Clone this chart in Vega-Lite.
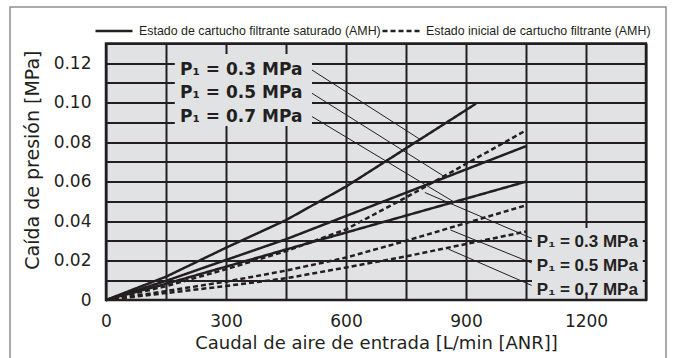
{
  "$schema": "https://vega.github.io/schema/vega-lite/v6.json",
  "width": 540,
  "height": 256.4,
  "autosize": "none",
  "padding": {"left": 106, "top": 43.6, "right": 28, "bottom": 58},
  "background": "#ffffff",
  "datasets": {
    "frame": [{"flow": -240, "flow2": 1400, "dp": 0.1486, "dp2": -0.05}],
    "boxes": [
      {"flow": 172, "flow2": 515, "dp": 0.1247, "dp2": 0.0882},
      {"flow": 1065, "flow2": 1342, "dp": 0.0365, "dp2": 0.003}
    ],
    "curves": [
      {"serie": "sat03", "estado": "Estado de cartucho filtrante saturado (AMH)", "flow": 0, "dp": 0},
      {"serie": "sat03", "estado": "Estado de cartucho filtrante saturado (AMH)", "flow": 150, "dp": 0.0118},
      {"serie": "sat03", "estado": "Estado de cartucho filtrante saturado (AMH)", "flow": 300, "dp": 0.0265},
      {"serie": "sat03", "estado": "Estado de cartucho filtrante saturado (AMH)", "flow": 450, "dp": 0.0405},
      {"serie": "sat03", "estado": "Estado de cartucho filtrante saturado (AMH)", "flow": 600, "dp": 0.0575},
      {"serie": "sat03", "estado": "Estado de cartucho filtrante saturado (AMH)", "flow": 750, "dp": 0.0769},
      {"serie": "sat03", "estado": "Estado de cartucho filtrante saturado (AMH)", "flow": 900, "dp": 0.0963},
      {"serie": "sat03", "estado": "Estado de cartucho filtrante saturado (AMH)", "flow": 925, "dp": 0.0996},
      {"serie": "sat05", "estado": "Estado de cartucho filtrante saturado (AMH)", "flow": 0, "dp": 0},
      {"serie": "sat05", "estado": "Estado de cartucho filtrante saturado (AMH)", "flow": 150, "dp": 0.0097},
      {"serie": "sat05", "estado": "Estado de cartucho filtrante saturado (AMH)", "flow": 300, "dp": 0.0203},
      {"serie": "sat05", "estado": "Estado de cartucho filtrante saturado (AMH)", "flow": 450, "dp": 0.0308},
      {"serie": "sat05", "estado": "Estado de cartucho filtrante saturado (AMH)", "flow": 600, "dp": 0.0426},
      {"serie": "sat05", "estado": "Estado de cartucho filtrante saturado (AMH)", "flow": 750, "dp": 0.0544},
      {"serie": "sat05", "estado": "Estado de cartucho filtrante saturado (AMH)", "flow": 900, "dp": 0.0662},
      {"serie": "sat05", "estado": "Estado de cartucho filtrante saturado (AMH)", "flow": 1050, "dp": 0.078},
      {"serie": "sat07", "estado": "Estado de cartucho filtrante saturado (AMH)", "flow": 0, "dp": 0},
      {"serie": "sat07", "estado": "Estado de cartucho filtrante saturado (AMH)", "flow": 150, "dp": 0.0082},
      {"serie": "sat07", "estado": "Estado de cartucho filtrante saturado (AMH)", "flow": 300, "dp": 0.0169},
      {"serie": "sat07", "estado": "Estado de cartucho filtrante saturado (AMH)", "flow": 450, "dp": 0.0256},
      {"serie": "sat07", "estado": "Estado de cartucho filtrante saturado (AMH)", "flow": 600, "dp": 0.0342},
      {"serie": "sat07", "estado": "Estado de cartucho filtrante saturado (AMH)", "flow": 750, "dp": 0.0428},
      {"serie": "sat07", "estado": "Estado de cartucho filtrante saturado (AMH)", "flow": 900, "dp": 0.0514},
      {"serie": "sat07", "estado": "Estado de cartucho filtrante saturado (AMH)", "flow": 1050, "dp": 0.06},
      {"serie": "ini03", "estado": "Estado inicial de cartucho filtrante (AMH)", "flow": 0, "dp": 0},
      {"serie": "ini03", "estado": "Estado inicial de cartucho filtrante (AMH)", "flow": 150, "dp": 0.007},
      {"serie": "ini03", "estado": "Estado inicial de cartucho filtrante (AMH)", "flow": 300, "dp": 0.0156},
      {"serie": "ini03", "estado": "Estado inicial de cartucho filtrante (AMH)", "flow": 450, "dp": 0.0248},
      {"serie": "ini03", "estado": "Estado inicial de cartucho filtrante (AMH)", "flow": 600, "dp": 0.0358},
      {"serie": "ini03", "estado": "Estado inicial de cartucho filtrante (AMH)", "flow": 750, "dp": 0.052},
      {"serie": "ini03", "estado": "Estado inicial de cartucho filtrante (AMH)", "flow": 900, "dp": 0.069},
      {"serie": "ini03", "estado": "Estado inicial de cartucho filtrante (AMH)", "flow": 1050, "dp": 0.086},
      {"serie": "ini05", "estado": "Estado inicial de cartucho filtrante (AMH)", "flow": 0, "dp": 0},
      {"serie": "ini05", "estado": "Estado inicial de cartucho filtrante (AMH)", "flow": 150, "dp": 0.0045},
      {"serie": "ini05", "estado": "Estado inicial de cartucho filtrante (AMH)", "flow": 300, "dp": 0.0093},
      {"serie": "ini05", "estado": "Estado inicial de cartucho filtrante (AMH)", "flow": 450, "dp": 0.0149},
      {"serie": "ini05", "estado": "Estado inicial de cartucho filtrante (AMH)", "flow": 600, "dp": 0.0215},
      {"serie": "ini05", "estado": "Estado inicial de cartucho filtrante (AMH)", "flow": 750, "dp": 0.03},
      {"serie": "ini05", "estado": "Estado inicial de cartucho filtrante (AMH)", "flow": 900, "dp": 0.039},
      {"serie": "ini05", "estado": "Estado inicial de cartucho filtrante (AMH)", "flow": 1050, "dp": 0.048},
      {"serie": "ini07", "estado": "Estado inicial de cartucho filtrante (AMH)", "flow": 0, "dp": 0},
      {"serie": "ini07", "estado": "Estado inicial de cartucho filtrante (AMH)", "flow": 150, "dp": 0.0035},
      {"serie": "ini07", "estado": "Estado inicial de cartucho filtrante (AMH)", "flow": 300, "dp": 0.0071},
      {"serie": "ini07", "estado": "Estado inicial de cartucho filtrante (AMH)", "flow": 450, "dp": 0.011},
      {"serie": "ini07", "estado": "Estado inicial de cartucho filtrante (AMH)", "flow": 600, "dp": 0.0165},
      {"serie": "ini07", "estado": "Estado inicial de cartucho filtrante (AMH)", "flow": 750, "dp": 0.0221},
      {"serie": "ini07", "estado": "Estado inicial de cartucho filtrante (AMH)", "flow": 900, "dp": 0.0284},
      {"serie": "ini07", "estado": "Estado inicial de cartucho filtrante (AMH)", "flow": 1050, "dp": 0.0347}
    ],
    "leaders": [
      {"flow": 515, "dp": 0.1166, "flow2": 787, "dp2": 0.0812},
      {"flow": 515, "dp": 0.1048, "flow2": 849, "dp2": 0.0622},
      {"flow": 515, "dp": 0.093, "flow2": 870, "dp2": 0.0497},
      {"flow": 797, "dp": 0.0545, "flow2": 1064, "dp2": 0.0313},
      {"flow": 861, "dp": 0.0355, "flow2": 1064, "dp2": 0.0188},
      {"flow": 856, "dp": 0.0258, "flow2": 1064, "dp2": 0.0074}
    ],
    "labelsLeft": [
      {"flow": 185, "dp": 0.1166, "txt": "P₁ = 0.3 MPa"},
      {"flow": 185, "dp": 0.1047, "txt": "P₁ = 0.5 MPa"},
      {"flow": 185, "dp": 0.0928, "txt": "P₁ = 0.7 MPa"}
    ],
    "labelsRight": [
      {"flow": 1077, "dp": 0.0294, "txt": "P₁ = 0.3 MPa"},
      {"flow": 1077, "dp": 0.0173, "txt": "P₁ = 0.5 MPa"},
      {"flow": 1077, "dp": 0.0053, "txt": "P₁ = 0.7 MPa"}
    ]
  },
  "encoding": {
    "x": {
      "field": "flow", "type": "quantitative",
      "scale": {"domain": [0, 1350], "nice": false, "zero": false},
      "axis": {
        "title": "Caudal de aire de entrada [L/min [ANR]]",
        "values": [0, 150, 300, 450, 600, 750, 900, 1050, 1200, 1350],
        "labelExpr": "datum.value % 300 === 0 ? datum.label : ''",
        "format": "d",
        "labelFlush": false,
        "labelOverlap": false,
        "labelPadding": 13,
        "titlePadding": 5
      }
    },
    "y": {
      "field": "dp", "type": "quantitative",
      "scale": {"domain": [0, 0.13], "nice": false, "zero": false},
      "axis": {
        "title": "Caída de presión [MPa]",
        "values": [0, 0.01, 0.02, 0.03, 0.04, 0.05, 0.06, 0.07, 0.08, 0.09, 0.1, 0.11, 0.12, 0.13],
        "labelExpr": "datum.value === 0 ? '0' : ((round(datum.value * 100) % 2 === 0 && datum.value < 0.125) ? format(datum.value, '.2f') : '')",
        "labelOverlap": false,
        "labelFlush": false,
        "labelPadding": 15,
        "titleFontSize": 19,
        "titleX": -68,
        "titleY": 116,
        "titleBaseline": "alphabetic",
        "titleAngle": -90
      }
    }
  },
  "layer": [
    {
      "data": {"name": "frame"},
      "mark": {"type": "rect", "fill": null, "fillOpacity": 0, "stroke": "#8f8f8f", "strokeWidth": 1.5, "clip": false},
      "encoding": {"x2": {"field": "flow2"}, "y2": {"field": "dp2"}}
    },
    {
      "data": {"name": "boxes"},
      "mark": {"type": "rect", "fill": "#e1e2e4", "stroke": null},
      "encoding": {"x2": {"field": "flow2"}, "y2": {"field": "dp2"}}
    },
    {
      "data": {"name": "curves"},
      "mark": {"type": "line", "color": "#231f20", "strokeWidth": 2.5, "strokeCap": "butt"},
      "encoding": {
        "detail": {"field": "serie"},
        "strokeDash": {
          "field": "estado", "type": "nominal",
          "scale": {
            "domain": ["Estado de cartucho filtrante saturado (AMH)", "Estado inicial de cartucho filtrante (AMH)"],
            "range": [[1, 0], [5, 3]]
          },
          "legend": {
            "orient": "none",
            "legendX": -12,
            "legendY": -33,
            "direction": "horizontal",
            "title": null,
            "symbolType": "stroke",
            "symbolSize": 1369,
            "symbolStrokeWidth": 2.5,
            "symbolStrokeColor": "#231f20",
            "labelFont": "Liberation Sans",
            "labelFontSize": 12.4,
            "labelColor": "#231f20",
            "labelLimit": 600,
            "labelOffset": 5,
            "columnPadding": -7,
            "padding": 0
          }
        }
      }
    },
    {
      "data": {"name": "leaders"},
      "mark": {"type": "rule", "color": "#231f20", "strokeWidth": 1},
      "encoding": {"x2": {"field": "flow2"}, "y2": {"field": "dp2"}}
    },
    {
      "data": {"name": "labelsLeft"},
      "mark": {"type": "text", "align": "left", "baseline": "middle", "font": "DejaVu Sans", "fontWeight": "bold", "fontSize": 17, "color": "#231f20"},
      "encoding": {"text": {"field": "txt"}}
    },
    {
      "data": {"name": "labelsRight"},
      "mark": {"type": "text", "align": "left", "baseline": "middle", "font": "Liberation Sans", "fontWeight": "bold", "fontSize": 17, "color": "#231f20"},
      "encoding": {"text": {"field": "txt"}}
    }
  ],
  "config": {
    "view": {"fill": "#e1e2e4", "stroke": "#231f20", "strokeWidth": 2.5},
    "axis": {
      "grid": true,
      "gridColor": "#231f20",
      "gridWidth": 2,
      "gridOpacity": 1,
      "domain": false,
      "ticks": false,
      "tickSize": 0,
      "labelFont": "DejaVu Sans",
      "labelFontSize": 17,
      "labelColor": "#231f20",
      "titleFont": "DejaVu Sans",
      "titleFontSize": 18,
      "titleFontWeight": "normal",
      "titleColor": "#231f20"
    }
  }
}
